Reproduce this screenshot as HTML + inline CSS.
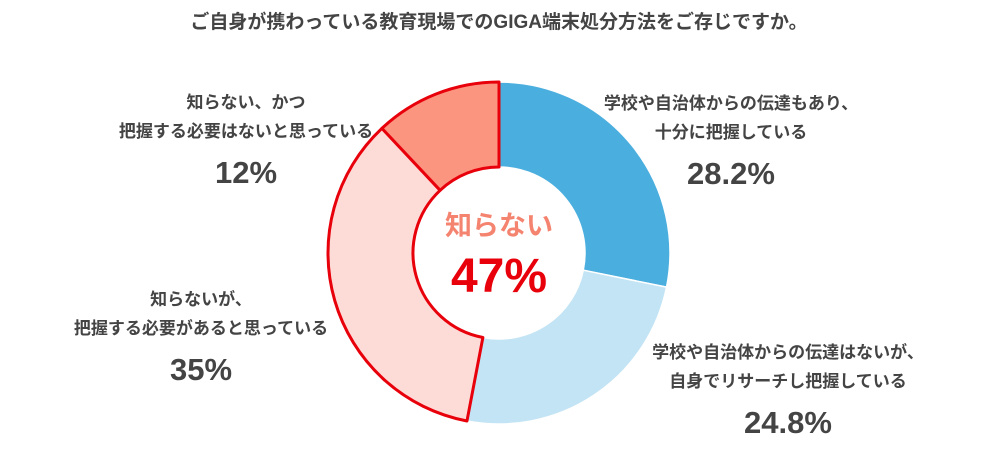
<!DOCTYPE html>
<html><head><meta charset="utf-8"><style>
body{margin:0;background:#fff;width:998px;height:464px;overflow:hidden;font-family:"Liberation Sans","Noto Sans CJK JP",sans-serif;}
svg text{font-family:"Liberation Sans","Noto Sans CJK JP",sans-serif;}
</style></head><body>
<svg width="998" height="464">
<text x="499" y="28" text-anchor="middle" font-size="19" font-weight="bold" fill="#444">ご自身が携わっている教育現場でのGIGA端末処分方法をご存じですか。</text>
<g id="slices"></g>
<text x="499" y="235" text-anchor="middle" font-size="27" font-weight="bold" fill="#f4846f">知らない</text>
<text x="499" y="292" text-anchor="middle" font-size="48" font-weight="bold" fill="#e8000b">47%</text>
<g id="labels"></g>
</svg>
<script>
const categories=["学校や自治体からの伝達もあり、|十分に把握している","学校や自治体からの伝達はないが、|自身でリサーチし把握している","知らないが、|把握する必要があると思っている","知らない、かつ|把握する必要はないと思っている"];
const values=[28.2,24.8,35,12];
const valueLabels=["28.2%","24.8%","35%","12%"];
const colors=["#4aaede","#c3e4f4","#fddcd8","#fb9580"];
const strokes=["#fff","#fff","#e8000b","#e8000b"];
const labelPos=[[731,109],[788,358],[201,305],[246,108]];
const cx=499,cy=253,R=171,r=86,NS="http://www.w3.org/2000/svg";
const total=values.reduce((a,b)=>a+b,0);
function pt(a,rad){return [cx+rad*Math.sin(a),cy-rad*Math.cos(a)];}
let acc=0;const sg=document.getElementById('slices'),lg=document.getElementById('labels');
values.forEach((v,i)=>{
 const a0=acc/total*2*Math.PI;acc+=v;const a1=acc/total*2*Math.PI;
 const lf=(a1-a0)>Math.PI?1:0;
 const p0=pt(a0,R),p1=pt(a1,R),q1=pt(a1,r),q0=pt(a0,r);
 const p=document.createElementNS(NS,'path');
 p.setAttribute('d',`M${p0}A${R},${R} 0 ${lf} 1 ${p1}L${q1}A${r},${r} 0 ${lf} 0 ${q0}Z`);
 p.setAttribute('fill',colors[i]);p.setAttribute('stroke',strokes[i]);
 p.setAttribute('stroke-width',i>=2?3:1.5);p.setAttribute('stroke-linejoin','round');
 
 
 sg.appendChild(p);
});
categories.forEach((c,i)=>{
 const [x,y]=labelPos[i];const lines=c.split('|');
 lines.forEach((ln,j)=>{
  const t=document.createElementNS(NS,'text');
  t.setAttribute('x',x);t.setAttribute('y',y+j*29);t.setAttribute('text-anchor','middle');
  t.setAttribute('font-size','17');t.setAttribute('font-weight','bold');t.setAttribute('fill','#444');
  t.textContent=ln;
  
  
  lg.appendChild(t);
 });
 const t=document.createElementNS(NS,'text');
 t.setAttribute('x',x);t.setAttribute('y',y+75);t.setAttribute('text-anchor','middle');
 t.setAttribute('font-size','31');t.setAttribute('font-weight','bold');t.setAttribute('fill','#444');
 t.textContent=valueLabels[i];
 
 
 lg.appendChild(t);
});
</script>
</body></html>
